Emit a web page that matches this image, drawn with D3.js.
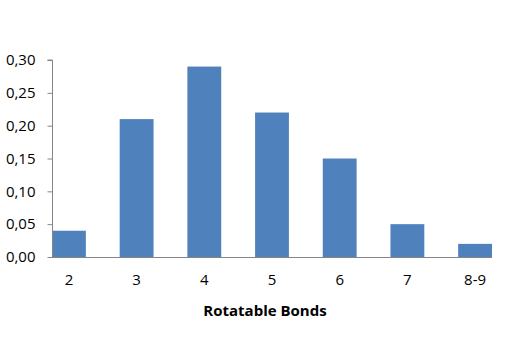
<!DOCTYPE html>
<html>
<head>
<meta charset="utf-8">
<script src="https://cdn.jsdelivr.net/npm/d3@7"></script>
<style>
  body { margin: 0; background: #fff; }
  svg { display: block; }
</style>
</head>
<body>
<div id="main"></div>
<script>
// data
var categories = ["2", "3", "4", "5", "6", "7", "8-9"];
var values = [0.04, 0.21, 0.29, 0.22, 0.15, 0.05, 0.02];
var yTicks = [0, 0.05, 0.10, 0.15, 0.20, 0.25, 0.30];
var xTitle = "Rotatable Bonds";

var width = 518, height = 364;
var barColor = "#4f81bd", axisColor = "#868686";
var font = "'Open Sans', 'Liberation Sans', sans-serif";

function main () {
  const x = d3.scaleBand()
    .domain(categories)
    .range([52, 492])
    .paddingInner(0.5)
    .paddingOuter(0);

  const y = d3.scaleLinear()
    .domain([0, 0.30])
    .range([257, 60]);

  const fmt = d => d3.format(".2f")(d).replace(".", ",");

  const svg = d3.create("svg")
    .attr("width", width)
    .attr("height", height)
    .attr("viewBox", [0, 0, width, height]);

  // bars
  svg.append("g")
    .selectAll("rect")
    .data(values)
    .join("rect")
      .attr("x", (d, i) => x(categories[i]))
      .attr("y", d => y(d))
      .attr("width", x.bandwidth())
      .attr("height", d => y(0) - y(d))
      .attr("fill", barColor);

  // y axis
  const yAxis = svg.append("g")
    .attr("transform", "translate(52.5,0)")
    .call(d3.axisLeft(y).tickValues(yTicks).tickSize(5).tickPadding(12).tickFormat(fmt));
  yAxis.select(".domain").attr("stroke", axisColor).attr("d", `M-5,${y(0.30)}H0V${y(0)}`);
  yAxis.selectAll(".tick line").attr("stroke", axisColor);
  yAxis.selectAll(".tick text")
    .attr("font-family", font)
    .attr("font-size", 15)
    .attr("fill", "#000");

  // x axis
  svg.append("line")
    .attr("x1", 52).attr("x2", x.range()[1])
    .attr("y1", y(0) + 0.5).attr("y2", y(0) + 0.5)
    .attr("stroke", axisColor);

  svg.append("g")
    .attr("font-family", font)
    .attr("font-size", 15)
    .attr("text-anchor", "middle")
    .selectAll("text")
    .data(categories)
    .join("text")
      .attr("x", d => x(d) + x.bandwidth() / 2)
      .attr("y", 285)
      .text(d => d);

  svg.append("text")
    .attr("x", 265)
    .attr("y", 316)
    .attr("text-anchor", "middle")
    .attr("font-family", font)
    .attr("font-size", 15)
    .attr("font-weight", "bold")
    .text(xTitle);

  return svg.node();
}

document.getElementById("main").appendChild(main());
</script>
</body>
</html>
